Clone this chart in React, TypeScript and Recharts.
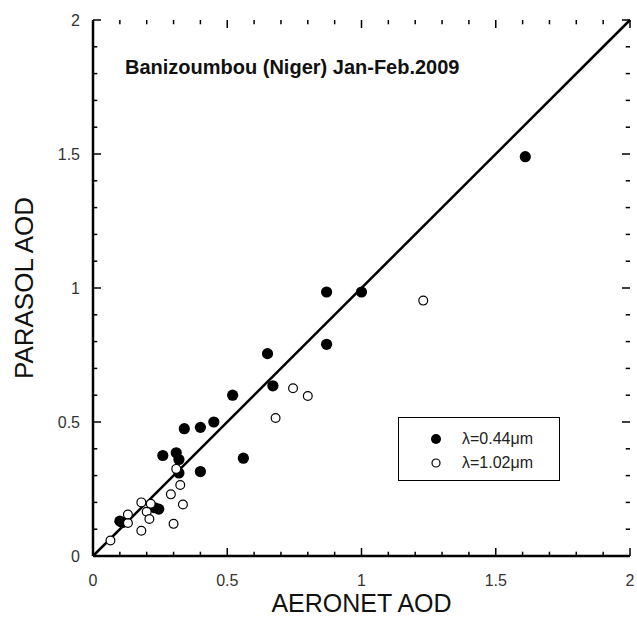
import React from 'react';
import {
  ScatterChart,
  Scatter,
  XAxis,
  YAxis,
  ReferenceLine,
  Legend,
} from 'recharts';

// AOD at 0.44 µm (filled) and 1.02 µm (open), AERONET vs PARASOL
const aeronet044 = [0.10, 0.11, 0.23, 0.245, 0.26, 0.31, 0.32, 0.32, 0.34, 0.40, 0.40, 0.45, 0.52, 0.56, 0.65, 0.67, 0.87, 0.87, 1.0, 1.61];
const parasol044 = [0.13, 0.125, 0.18, 0.175, 0.375, 0.385, 0.36, 0.31, 0.475, 0.48, 0.315, 0.5, 0.6, 0.365, 0.755, 0.635, 0.985, 0.79, 0.985, 1.49];

const aeronet102 = [0.065, 0.13, 0.13, 0.18, 0.18, 0.2, 0.21, 0.215, 0.29, 0.3, 0.31, 0.325, 0.335, 0.68, 0.745, 0.8, 1.23];
const parasol102 = [0.058, 0.123, 0.155, 0.2, 0.094, 0.165, 0.138, 0.195, 0.23, 0.12, 0.325, 0.265, 0.192, 0.515, 0.626, 0.597, 0.953];

const majorTicks = [0, 0.5, 1, 1.5, 2];
const minorTicks = [0.1, 0.2, 0.3, 0.4, 0.6, 0.7, 0.8, 0.9, 1.1, 1.2, 1.3, 1.4, 1.6, 1.7, 1.8, 1.9];
const oneToOne = [{ x: 0, y: 0 }, { x: 2, y: 2 }];

const seriesNames = ['λ=0.44μm', 'λ=1.02μm'];
const titleText = 'Banizoumbou (Niger) Jan-Feb.2009';

const data044 = aeronet044.map((x, i) => ({ x, y: parasol044[i] }));
const data102 = aeronet102.map((x, i) => ({ x, y: parasol102[i] }));

const FONT = '"Liberation Sans", Arial, sans-serif';
const frameStyle = { stroke: '#000', strokeWidth: 2.5 };
const tickText = { fontSize: 16, fill: '#333', fontFamily: FONT };

// inward tick length in axis units (major ~8px, minor ~4px)
const MAJOR_LEN = 0.03;
const MINOR_LEN = 0.016;

const FilledDot = (props: any) => <circle cx={props.cx} cy={props.cy} r={5.6} fill="#000" />;
const OpenDot = (props: any) => (
  <circle cx={props.cx} cy={props.cy} r={4.4} fill="#fff" stroke="#000" strokeWidth={1.2} />
);

const LegendBox = (props: any) => {
  const items = props.payload || [];
  return (
    <div
      style={{
        width: 162,
        height: 64,
        boxSizing: 'border-box',
        border: '1.5px solid #000',
        background: '#fff',
        fontFamily: FONT,
        fontSize: 16,
        color: '#222',
        paddingTop: 9,
      }}
    >
      {items.map((entry: any, i: number) => (
        <div key={i} style={{ display: 'flex', alignItems: 'center', height: 24 }}>
          <svg width={60} height={20} style={{ display: 'block' }}>
            {i === 0 ? (
              <circle cx={37} cy={10} r={5} fill="#000" />
            ) : (
              <circle cx={37} cy={10} r={4} fill="#fff" stroke="#000" strokeWidth={1.2} />
            )}
          </svg>
          <span style={{ marginLeft: 3 }}>{entry.value}</span>
        </div>
      ))}
    </div>
  );
};

// tick marks on all four sides, pointing into the plot
const tickMarks = (ticks: number[], len: number, tag: string) =>
  ticks.flatMap((v) => [
    <ReferenceLine key={`${tag}b${v}`} segment={[{ x: v, y: 0 }, { x: v, y: len }]} stroke="#000" strokeWidth={1.5} />,
    <ReferenceLine key={`${tag}t${v}`} segment={[{ x: v, y: 2 }, { x: v, y: 2 - len }]} stroke="#000" strokeWidth={1.5} />,
    <ReferenceLine key={`${tag}l${v}`} segment={[{ x: 0, y: v }, { x: len, y: v }]} stroke="#000" strokeWidth={1.5} />,
    <ReferenceLine key={`${tag}r${v}`} segment={[{ x: 2, y: v }, { x: 2 - len, y: v }]} stroke="#000" strokeWidth={1.5} />,
  ]);

export default function App() {
  return (
    <div style={{ position: 'absolute', left: 0, top: 0, width: 637, height: 617, background: '#fff' }}>
      <ScatterChart width={637} height={617} margin={{ top: 20, right: 7, bottom: 0, left: 0 }}>
        <XAxis
          type="number"
          dataKey="x"
          domain={[0, 2]}
          ticks={majorTicks}
          interval={0}
          height={61}
          tickSize={0}
          tickMargin={19}
          tickLine={false}
          tick={tickText}
          axisLine={frameStyle}
          label={{
            value: 'AERONET AOD',
            position: 'insideBottom',
            offset: 5,
            fontSize: 25,
            fontFamily: FONT,
            fill: '#111',
          }}
        />
        <XAxis
          xAxisId="top"
          orientation="top"
          type="number"
          domain={[0, 2]}
          ticks={majorTicks}
          height={0}
          tickSize={0}
          tickLine={false}
          tick={false}
          axisLine={frameStyle}
        />
        <YAxis
          type="number"
          dataKey="y"
          domain={[0, 2]}
          ticks={majorTicks}
          interval={0}
          width={93}
          tickSize={0}
          tickMargin={13}
          tickLine={false}
          tick={tickText}
          axisLine={frameStyle}
          label={{
            value: 'PARASOL AOD',
            angle: -90,
            position: 'insideLeft',
            offset: 24,
            style: { textAnchor: 'middle' },
            fontSize: 26,
            fontFamily: FONT,
            fill: '#111',
          }}
        />
        <YAxis
          yAxisId="right"
          orientation="right"
          type="number"
          domain={[0, 2]}
          ticks={majorTicks}
          width={0}
          tickSize={0}
          tickLine={false}
          tick={false}
          axisLine={frameStyle}
        />
        {tickMarks(majorTicks, MAJOR_LEN, 'M')}
        {tickMarks(minorTicks, MINOR_LEN, 'm')}
        <ReferenceLine segment={oneToOne} stroke="#000" strokeWidth={2.5} />
        <Scatter name={seriesNames[0]} data={data044} fill="#000" shape={<FilledDot />} isAnimationActive={false} />
        <Scatter name={seriesNames[1]} data={data102} fill="#fff" shape={<OpenDot />} isAnimationActive={false} />
        <Legend
          layout="vertical"
          align="center"
          verticalAlign="middle"
          content={<LegendBox />}
          wrapperStyle={{ position: 'absolute', left: 398, top: 417, width: 162, height: 64 }}
        />
      </ScatterChart>
      <div
        style={{
          position: 'absolute',
          left: 125,
          top: 56,
          fontFamily: FONT,
          fontSize: 20,
          fontWeight: 'bold',
          color: '#111',
          whiteSpace: 'nowrap',
          lineHeight: '22px',
        }}
      >
        {titleText}
      </div>
    </div>
  );
}
